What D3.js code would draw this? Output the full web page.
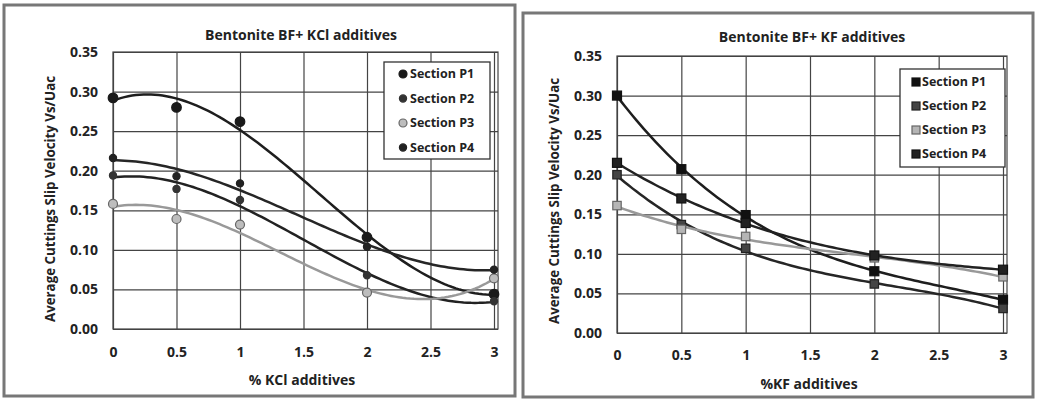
<!DOCTYPE html>
<html>
<head>
<meta charset="utf-8">
<script src="https://cdn.jsdelivr.net/npm/d3@7"></script>
<style>
  body { margin: 0; background: #fff; }
  svg text { font-family: "Open Sans", Lato, sans-serif; font-weight: bold; fill: #222; }
</style>
</head>
<body>
<svg id="chart" width="1043" height="399"></svg>
<script>
// values
const xAdd = [0, 0.5, 1, 2, 3];
const seriesNames = ['Section P1', 'Section P2', 'Section P3', 'Section P4'];

const kclP1 = [0.292, 0.280, 0.262, 0.116, 0.044];
const kclP2 = [0.194, 0.177, 0.163, 0.068, 0.035];
const kclP3 = [0.158, 0.139, 0.132, 0.046, 0.064];
const kclP4 = [0.216, 0.193, 0.184, 0.104, 0.075];

const kfP1 = [0.300, 0.207, 0.149, 0.078, 0.042];
const kfP2 = [0.200, 0.137, 0.107, 0.062, 0.031];
const kfP3 = [0.161, 0.131, 0.122, 0.095, 0.071];
const kfP4 = [0.215, 0.170, 0.139, 0.098, 0.080];

const xTicks = [0, 0.5, 1, 1.5, 2, 2.5, 3];
const yTicks = [0, 0.05, 0.10, 0.15, 0.20, 0.25, 0.30, 0.35];

const svg = d3.select('#chart');

// least squares cubic, like the excel polynomial trendline
const polyFit = (xs, ys, order) => {
  const n = order + 1;
  const A = [];
  for (let i = 0; i < n; i++) {
    A.push(new Array(n + 1).fill(0));
    for (let j = 0; j < n; j++) A[i][j] = d3.sum(xs, x => Math.pow(x, i + j));
    A[i][n] = d3.sum(xs, (x, k) => ys[k] * Math.pow(x, i));
  }
  for (let c = 0; c < n; c++) {
    let p = c;
    for (let r = c + 1; r < n; r++) if (Math.abs(A[r][c]) > Math.abs(A[p][c])) p = r;
    [A[c], A[p]] = [A[p], A[c]];
    for (let r = 0; r < n; r++) {
      if (r === c) continue;
      const f = A[r][c] / A[c][c];
      for (let k = c; k <= n; k++) A[r][k] -= f * A[c][k];
    }
  }
  const coef = A.map((row, i) => row[n] / row[i]);
  return x => d3.sum(coef, (c, i) => c * Math.pow(x, i));
};

const drawChart = cfg => {
  const { frame, plot, title, xLabel, yLabel, series, legend, shape } = cfg;

  // outer frame of the scanned panel
  svg.append('rect')
    .attr('x', frame[0]).attr('y', frame[1])
    .attr('width', frame[2]).attr('height', frame[3])
    .attr('fill', 'none').attr('stroke', '#777').attr('stroke-width', 3);

  const xScale = d3.scaleLinear().domain([0, 3]).range([plot.left, plot.x3]);
  const yScale = d3.scaleLinear().domain([0, 0.35]).range([plot.bottom, plot.top]);

  const g = svg.append('g');

  g.append('g')
    .attr('transform', `translate(0,${plot.bottom})`)
    .call(d3.axisBottom(xScale).tickValues(xTicks).tickFormat(d3.format('')).tickSize(-(plot.bottom - plot.top)).tickPadding(cfg.xPad))
    .call(a => a.select('.domain').remove())
    .call(a => a.selectAll('line').attr('stroke', '#444').attr('stroke-width', 1.2))
    .call(a => a.selectAll('text').attr('font-size', 14).attr('fill', '#222'));

  g.append('g')
    .attr('transform', `translate(${plot.left},0)`)
    .call(d3.axisLeft(yScale).tickValues(yTicks).tickFormat(d3.format('.2f')).tickSize(-(plot.right - plot.left)).tickPadding(15))
    .call(a => a.select('.domain').remove())
    .call(a => a.selectAll('line').attr('stroke', '#444').attr('stroke-width', 1.2))
    .call(a => a.selectAll('text').attr('font-size', 14).attr('fill', '#222'));

  g.append('rect')
    .attr('x', plot.left).attr('y', plot.top)
    .attr('width', plot.right - plot.left).attr('height', plot.bottom - plot.top)
    .attr('fill', 'none').attr('stroke', '#444').attr('stroke-width', 1.2);

  // trendlines
  const line = d3.line().x(d => xScale(d[0])).y(d => yScale(d[1]));
  const xs = d3.range(0, 3.0001, 0.03);
  series.forEach(s => {
    const f = polyFit(xAdd, s.values, 3);
    g.append('path')
      .attr('d', line(xs.map(x => [x, f(x)])))
      .attr('fill', 'none')
      .attr('stroke', s.line)
      .attr('stroke-width', 2.5);
  });

  // markers
  const marker = (sel, s, x, y) => {
    if (shape === 'circle') {
      sel.append('circle').attr('cx', x).attr('cy', y).attr('r', s.size)
        .attr('fill', s.fill).attr('stroke', s.stroke).attr('stroke-width', 1.2);
    } else {
      sel.append('rect').attr('x', x - s.size).attr('y', y - s.size)
        .attr('width', s.size * 2).attr('height', s.size * 2)
        .attr('fill', s.fill).attr('stroke', s.stroke).attr('stroke-width', 1.2);
    }
  };
  series.forEach(s => {
    s.values.forEach((v, i) => marker(g, s, xScale(xAdd[i]), yScale(v)));
  });

  svg.append('text')
    .attr('x', cfg.titlePos[0]).attr('y', cfg.titlePos[1])
    .attr('text-anchor', 'middle').attr('font-size', 14)
    .text(title);

  svg.append('text')
    .attr('x', cfg.xLabelPos[0]).attr('y', cfg.xLabelPos[1])
    .attr('text-anchor', 'middle').attr('font-size', 14)
    .text(xLabel);

  svg.append('text')
    .attr('transform', `translate(${cfg.yLabelPos[0]},${cfg.yLabelPos[1]}) rotate(-90)`)
    .attr('text-anchor', 'middle').attr('font-size', 13.3)
    .text(yLabel);

  // legend
  const lg = svg.append('g').attr('transform', `translate(${legend.x},${legend.y})`);
  lg.append('rect').attr('width', legend.w).attr('height', legend.h)
    .attr('fill', '#fff').attr('stroke', '#333').attr('stroke-width', 1.3);
  series.forEach((s, i) => {
    const cy = legend.first + i * legend.step;
    marker(lg, Object.assign({}, s, { size: Math.min(s.size, 4) }), legend.mx, cy);
    lg.append('text').attr('x', legend.tx).attr('y', cy).attr('dy', '0.35em')
      .attr('font-size', 12.5).text(seriesNames[i]);
  });
};

drawChart({
  frame: [4, 5, 511, 391],
  plot: { left: 113, x3: 494, right: 498, top: 52, bottom: 329 },
  xPad: 18,
  title: 'Bentonite BF+ KCl additives',
  titlePos: [301, 40],
  xLabel: '% KCl additives',
  xLabelPos: [302, 385],
  yLabel: 'Average Cuttings Slip Velocity Vs/Uac',
  yLabelPos: [55, 199],
  shape: 'circle',
  legend: { x: 384, y: 62, w: 106, h: 97, first: 12, step: 24.5, mx: 19, tx: 26 },
  series: [
    { values: kclP1, fill: '#1a1a1a', stroke: '#1a1a1a', line: '#1e1e1e', size: 4.8 },
    { values: kclP2, fill: '#333', stroke: '#333', line: '#222', size: 3.6 },
    { values: kclP3, fill: '#bdbdbd', stroke: '#666', line: '#999', size: 4.5 },
    { values: kclP4, fill: '#222', stroke: '#222', line: '#262626', size: 3.6 }
  ]
});

drawChart({
  frame: [523, 13, 510, 384],
  plot: { left: 617, x3: 1003, right: 1007, top: 56, bottom: 333 },
  xPad: 17,
  title: 'Bentonite BF+ KF additives',
  titlePos: [812, 42],
  xLabel: '%KF additives',
  xLabelPos: [809, 389],
  yLabel: 'Average Cuttings Slip Velocity Vs/Uac',
  yLabelPos: [559, 201],
  shape: 'square',
  legend: { x: 900, y: 69, w: 105, h: 98, first: 13, step: 24, mx: 16, tx: 22 },
  series: [
    { values: kfP1, fill: '#111', stroke: '#111', line: '#1e1e1e', size: 4.5 },
    { values: kfP2, fill: '#444', stroke: '#222', line: '#262626', size: 4.2 },
    { values: kfP3, fill: '#b5b5b5', stroke: '#666', line: '#999', size: 4.2 },
    { values: kfP4, fill: '#222', stroke: '#111', line: '#222', size: 4.5 }
  ]
});
</script>
</body>
</html>
